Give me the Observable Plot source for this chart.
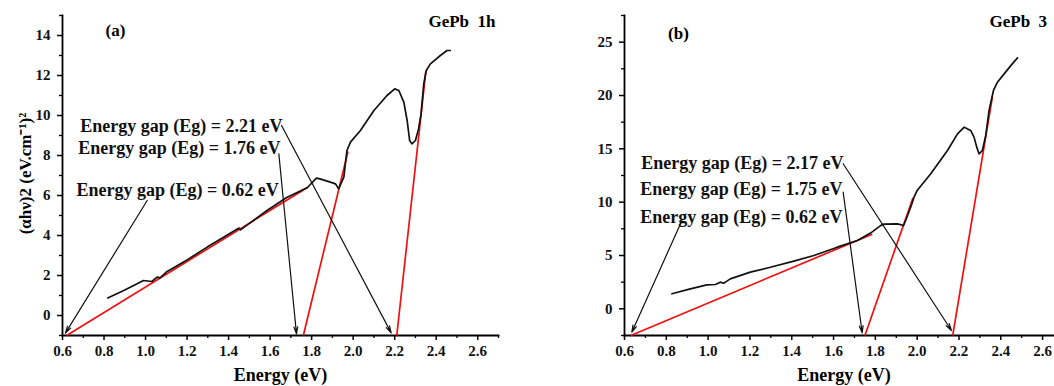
<!DOCTYPE html>
<html>
<head>
<meta charset="utf-8">
<script src="https://cdn.jsdelivr.net/npm/d3@7"></script>
<script src="https://cdn.jsdelivr.net/npm/@observablehq/plot@0.6"></script>
<style>
  html, body { margin: 0; padding: 0; background: #fff; }
  #wrap { display: flex; flex-wrap: nowrap; width: 1054px; height: 386px; overflow: hidden; }
  #wrap > div { flex: none; }
</style>
</head>
<body>
<div id="wrap"><div id="pa"></div><div id="pb"></div></div>
<script>
// ---------- Panel (a): GePb 1h ----------
const energyA = [0.818, 0.90, 0.99, 1.03, 1.056, 1.07, 1.10, 1.20, 1.297, 1.39, 1.45, 1.457, 1.585, 1.68, 1.78, 1.823, 1.84, 1.89, 1.915, 1.93, 1.955, 1.97, 1.987, 2.035, 2.10, 2.163, 2.20, 2.22, 2.244, 2.26, 2.272, 2.283, 2.30, 2.315, 2.327, 2.34, 2.352, 2.372, 2.42, 2.452, 2.468];
const absA    = [0.88, 1.28, 1.75, 1.70, 1.92, 1.88, 2.17, 2.78, 3.42, 4.0, 4.37, 4.28, 5.25, 5.9, 6.4, 6.87, 6.83, 6.67, 6.58, 6.33, 6.92, 8.25, 8.67, 9.25, 10.25, 11.0, 11.33, 11.25, 10.67, 9.75, 8.75, 8.58, 8.75, 9.33, 10.08, 11.58, 12.25, 12.58, 13.0, 13.25, 13.25];
const fitA = [
  {x1: 0.62, y1: -1, x2: 1.78, y2: 6.4},
  {x1: 1.76, y1: -1, x2: 1.975, y2: 8.2},
  {x1: 2.21, y1: -1, x2: 2.35, y2: 12.2}
];
const gapLabelsA = ["Energy gap (Eg) = 2.21 eV", "Energy gap (Eg) = 1.76 eV", "Energy gap (Eg) = 0.62 eV"];
const gapLabelXA = [1.66, 1.65, 1.641];
const gapLabelYA = [9.45, 8.35, 6.25];
const arrowsA = [
  {x1: 1.655, y1: 9.5, x2: 2.183, y2: -0.87},
  {x1: 1.642, y1: 8.08, x2: 1.727, y2: -0.92},
  {x1: 1.008, y1: 5.75, x2: 0.614, y2: -0.88}
];

// ---------- Panel (b): GePb 3 ----------
const energyB = [0.827, 0.915, 0.994, 1.035, 1.058, 1.074, 1.09, 1.106, 1.202, 1.298, 1.41, 1.506, 1.618, 1.714, 1.777, 1.825, 1.84, 1.905, 1.92, 1.934, 1.945, 1.969, 1.985, 2.0, 2.065, 2.145, 2.193, 2.225, 2.256, 2.272, 2.285, 2.296, 2.312, 2.328, 2.344, 2.365, 2.384, 2.416, 2.448, 2.48];
const absB    = [1.41, 1.875, 2.25, 2.28, 2.5, 2.4, 2.6, 2.81, 3.44, 3.9, 4.47, 5.0, 5.78, 6.4, 7.1, 7.8, 7.94, 7.97, 7.9, 7.8, 8.28, 9.53, 10.47, 11.1, 12.66, 14.84, 16.4, 17.03, 16.72, 16.1, 15.16, 14.53, 14.84, 16.25, 18.6, 20.47, 21.25, 22.03, 22.8, 23.53];
const fitB = [
  {x1: 0.63, y1: -2.5, x2: 1.785, y2: 7.0},
  {x1: 1.75, y1: -2.5, x2: 1.98, y2: 10.4},
  {x1: 2.17, y1: -2.5, x2: 2.36, y2: 19.9}
];
const gapLabelsB = ["Energy gap (Eg) = 2.17 eV", "Energy gap (Eg) = 1.75 eV", "Energy gap (Eg) = 0.62 eV"];
const gapLabelXB = [1.648, 1.643, 1.643];
const gapLabelYB = [13.63, 11.18, 8.55];
const arrowsB = [
  {x1: 1.646, y1: 13.6, x2: 2.164, y2: -2.03},
  {x1: 1.646, y1: 10.94, x2: 1.737, y2: -2.25},
  {x1: 0.875, y1: 8.28, x2: 0.635, y2: -2.19}
];

const xMajor = d3.range(0.6, 2.61, 0.2).map(v => +v.toFixed(1));
const xMinor = d3.range(0.7, 2.71, 0.2).map(v => +v.toFixed(1));
const yMajorA = d3.range(0, 15, 2);
const yMinorA = d3.range(-1, 15.1, 2);
const yMajorB = d3.range(0, 26, 5);
const yMinorB = d3.range(-2.5, 27.6, 5);

const FONT = "'Liberation Serif', 'Times New Roman', serif";

function panel({energy, abs, fit, labels, lx, ly, arrows, yDomain, yMajor, yMinor, width, marginLeft, marginRight, panelTag, tagDx, tagDy, sample, sampleAnchor, sampleDx, yLabel}) {
  const curve = energy.map((e, i) => ({e, a: abs[i]}));
  const ann = labels.map((t, i) => ({t, x: lx[i], y: ly[i]}));
  const marks = [
    Plot.axisX({ticks: xMinor, tickSize: 3, tickFormat: () => "", strokeWidth: 1.3}),
    Plot.axisX({ticks: xMajor, tickSize: 5, tickPadding: 5, tickFormat: d3.format(".1f"), fontSize: 15, fontWeight: "bold", fontFamily: FONT, fill: "#111", strokeWidth: 1.5, label: null}),
    Plot.axisY({ticks: yMinor, tickSize: 3, tickFormat: () => "", strokeWidth: 1.3}),
    Plot.axisY({ticks: yMajor, tickSize: 5, tickPadding: 7, fontSize: 15, fontWeight: "bold", fontFamily: FONT, fill: "#111", strokeWidth: 1.5, label: null}),
    Plot.frame({anchor: "left", strokeWidth: 1.8}),
    Plot.frame({anchor: "bottom", strokeWidth: 1.8}),
    Plot.link(fit, {x1: "x1", y1: "y1", x2: "x2", y2: "y2", stroke: "#f01010", strokeWidth: 1.7}),
    Plot.line(curve, {x: "e", y: "a", stroke: "#111", strokeWidth: 1.7}),
    Plot.arrow(arrows, {x1: "x1", y1: "y1", x2: "x2", y2: "y2", stroke: "#111", strokeWidth: 1.2, headLength: 9, headAngle: 30}),
    Plot.text(ann, {x: "x", y: "y", text: "t", textAnchor: "end", fontSize: 18, fontWeight: "bold", fontFamily: FONT, fill: "#111"}),
    Plot.text([panelTag], {frameAnchor: "top-left", dx: tagDx, dy: tagDy, textAnchor: "middle", lineAnchor: "middle", fontSize: 17, fontWeight: "bold", fontFamily: FONT}),
    Plot.text([sample], {frameAnchor: "top-right", dx: sampleDx, dy: 6, textAnchor: sampleAnchor, lineAnchor: "middle", fontSize: 17, fontWeight: "bold", fontFamily: FONT}),
    Plot.text(["Energy (eV)"], {frameAnchor: "bottom", dy: 40, lineAnchor: "middle", fontSize: 18, fontWeight: "bold", fontFamily: FONT})
  ];
  if (yLabel) marks.push(Plot.text([yLabel], {frameAnchor: "left", dx: -37, dy: -2, textAnchor: "middle", lineAnchor: "middle", rotate: -90, fontSize: 17, fontWeight: "bold", fontFamily: FONT}));
  return Plot.plot({
    width, height: 386,
    marginLeft, marginRight, marginTop: 15, marginBottom: 51,
    style: {maxWidth: "none", overflow: "visible", background: "#fff"},
    x: {domain: [0.6, 2.7]},
    y: {domain: yDomain},
    marks
  });
}

document.getElementById("pa").appendChild(panel({
  energy: energyA, abs: absA, fit: fitA, labels: gapLabelsA, lx: gapLabelXA, ly: gapLabelYA, arrows: arrowsA,
  yDomain: [-1, 15], yMajor: yMajorA, yMinor: yMinorA, width: 530, marginLeft: 62, marginRight: 32,
  panelTag: "(a)", tagDx: 53, tagDy: 15, sample: "GePb  1h", sampleAnchor: "end", sampleDx: -3,
  yLabel: "(αhν)2 (eV.cm⁻¹)²"
}));
document.getElementById("pb").appendChild(panel({
  energy: energyB, abs: absB, fit: fitB, labels: gapLabelsB, lx: gapLabelXB, ly: gapLabelYB, arrows: arrowsB,
  yDomain: [-2.5, 27.5], yMajor: yMajorB, yMinor: yMinorB, width: 553, marginLeft: 94, marginRight: 20,
  panelTag: "(b)", tagDx: 54, tagDy: 18, sample: "GePb  3", sampleAnchor: "start", sampleDx: -74,
  yLabel: null
}));
</script>
</body>
</html>
